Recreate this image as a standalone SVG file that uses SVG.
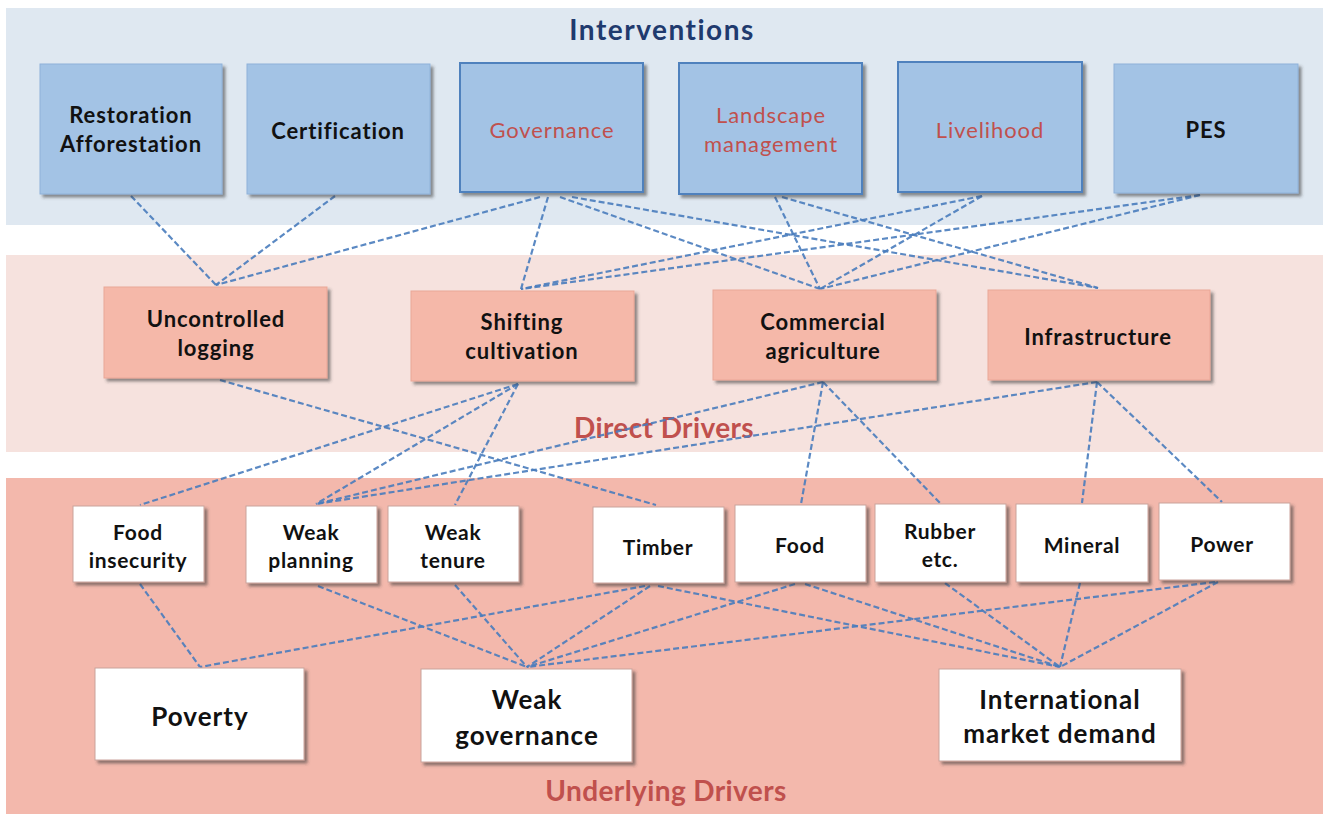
<svg xmlns="http://www.w3.org/2000/svg" width="1324" height="814" viewBox="0 0 1324 814">
<defs>
<filter id="sh" x="-10%" y="-10%" width="130%" height="140%">
<feDropShadow dx="3" dy="3" stdDeviation="1.6" flood-color="#3a3a3a" flood-opacity="0.55"/>
</filter>
<style>
text{font-family:Lato,"Open Sans","Liberation Sans",sans-serif;text-anchor:middle;font-weight:700;fill:#111}
.t1{font-size:22px;letter-spacing:0.9px}
.red{fill:#c0504d;font-weight:400}
.t2{font-size:22px;letter-spacing:0.9px}
.t3{font-size:21px;letter-spacing:0.7px}
.t4{font-size:26px;letter-spacing:1px}
.band{font-size:28px;letter-spacing:0.4px}
.blue{fill:#a3c3e5;stroke:#8fb2d9;stroke-width:1}
.blueb{fill:#a3c3e5;stroke:#4f81bd;stroke-width:2}
.pink{fill:#f5b8a9;stroke:#eaa797;stroke-width:1}
.white{fill:#ffffff;stroke:#caa39c;stroke-width:1}
.c line{stroke:#4a7dbd;stroke-width:2.2;stroke-dasharray:6 3;opacity:0.9}
</style>
</defs>

<!-- bands -->
<rect x="0" y="0" width="1324" height="814" fill="#ffffff"/>
<rect x="6" y="8" width="1317" height="217" fill="#dfe8f1"/>
<rect x="6" y="255" width="1317" height="197" fill="#f6e2de"/>
<rect x="6" y="478" width="1317" height="336" fill="#f3b8ac"/>

<text x="662" y="40" class="band" style="fill:#1f3a6e;letter-spacing:1.5px">Interventions</text>
<text x="664" y="438" class="band" style="fill:#c0504d">Direct Drivers</text>
<text x="666" y="801" class="band" style="fill:#c0504d">Underlying Drivers</text>

<!-- connectors -->
<g id="connectors" class="c">
<line x1="131" y1="196" x2="216" y2="285"/>
<line x1="335" y1="196" x2="216" y2="285"/>
<line x1="540" y1="197" x2="216" y2="285"/>
<line x1="548" y1="197" x2="521" y2="289"/>
<line x1="560" y1="197" x2="820" y2="289"/>
<line x1="572" y1="197" x2="1098" y2="288"/>
<line x1="775" y1="197" x2="820" y2="289"/>
<line x1="782" y1="197" x2="1098" y2="288"/>
<line x1="982" y1="196" x2="521" y2="289"/>
<line x1="982" y1="196" x2="820" y2="289"/>
<line x1="1200" y1="195" x2="521" y2="289"/>
<line x1="1200" y1="195" x2="820" y2="289"/>

<line x1="220" y1="380" x2="656" y2="505"/>
<line x1="518" y1="384" x2="140" y2="505"/>
<line x1="518" y1="384" x2="316" y2="504"/>
<line x1="518" y1="384" x2="455" y2="505"/>
<line x1="823" y1="382" x2="316" y2="504"/>
<line x1="823" y1="382" x2="801" y2="504"/>
<line x1="823" y1="382" x2="940" y2="503"/>
<line x1="1097" y1="382" x2="316" y2="504"/>
<line x1="1097" y1="382" x2="1082" y2="503"/>
<line x1="1097" y1="382" x2="1222" y2="502"/>

<line x1="140" y1="584" x2="200" y2="667"/>
<line x1="645" y1="586" x2="200" y2="667"/>
<line x1="318" y1="586" x2="527" y2="667"/>
<line x1="455" y1="585" x2="527" y2="667"/>
<line x1="650" y1="586" x2="527" y2="667"/>
<line x1="795" y1="584" x2="527" y2="667"/>
<line x1="1215" y1="582" x2="527" y2="667"/>
<line x1="658" y1="586" x2="1060" y2="667"/>
<line x1="805" y1="584" x2="1060" y2="667"/>
<line x1="945" y1="583" x2="1060" y2="667"/>
<line x1="1080" y1="583" x2="1060" y2="667"/>
<line x1="1218" y1="582" x2="1060" y2="667"/>
</g>

<!-- interventions -->
<g id="n-restoration"><rect x="40" y="64" width="182" height="130" class="blue" filter="url(#sh)"/><text x="131" y="123" class="t1">Restoration</text><text x="131" y="152" class="t1">Afforestation</text></g>
<g id="n-certification"><rect x="247" y="64" width="183" height="130" class="blue" filter="url(#sh)"/><text x="338" y="139" class="t1">Certification</text></g>
<g id="n-governance"><rect x="460" y="63" width="183" height="129" class="blueb" filter="url(#sh)"/><text x="552" y="138" class="t1 red">Governance</text></g>
<g id="n-landscape"><rect x="679" y="63" width="183" height="131" class="blueb" filter="url(#sh)"/><text x="771" y="123" class="t1 red">Landscape</text><text x="771" y="152" class="t1 red">management</text></g>
<g id="n-livelihood"><rect x="898" y="62" width="184" height="130" class="blueb" filter="url(#sh)"/><text x="990" y="138" class="t1 red">Livelihood</text></g>
<g id="n-pes"><rect x="1114" y="64" width="184" height="129" class="blue" filter="url(#sh)"/><text x="1206" y="138" class="t1">PES</text></g>

<!-- direct drivers -->
<g id="n-logging"><rect x="104" y="287" width="223" height="91" class="pink" filter="url(#sh)"/><text x="216" y="327" class="t2">Uncontrolled</text><text x="216" y="356" class="t2">logging</text></g>
<g id="n-shifting"><rect x="411" y="291" width="223" height="90" class="pink" filter="url(#sh)"/><text x="522" y="330" class="t2">Shifting</text><text x="522" y="359" class="t2">cultivation</text></g>
<g id="n-commercial"><rect x="713" y="290" width="223" height="90" class="pink" filter="url(#sh)"/><text x="823" y="330" class="t2">Commercial</text><text x="823" y="359" class="t2">agriculture</text></g>
<g id="n-infrastructure"><rect x="988" y="290" width="222" height="90" class="pink" filter="url(#sh)"/><text x="1098" y="345" class="t2">Infrastructure</text></g>

<!-- underlying row 1 -->
<g id="n-foodinsecurity"><rect x="73" y="506" width="131" height="76" class="white" filter="url(#sh)"/><text x="138" y="540" class="t3">Food</text><text x="138" y="568" class="t3">insecurity</text></g>
<g id="n-weakplanning"><rect x="246" y="506" width="131" height="77" class="white" filter="url(#sh)"/><text x="311" y="540" class="t3">Weak</text><text x="311" y="568" class="t3">planning</text></g>
<g id="n-weaktenure"><rect x="388" y="506" width="131" height="76" class="white" filter="url(#sh)"/><text x="453" y="540" class="t3">Weak</text><text x="453" y="568" class="t3">tenure</text></g>
<g id="n-timber"><rect x="593" y="507" width="131" height="76" class="white" filter="url(#sh)"/><text x="658" y="555" class="t3">Timber</text></g>
<g id="n-food"><rect x="735" y="505" width="131" height="77" class="white" filter="url(#sh)"/><text x="800" y="553" class="t3">Food</text></g>
<g id="n-rubber"><rect x="875" y="504" width="131" height="78" class="white" filter="url(#sh)"/><text x="940" y="539" class="t3">Rubber</text><text x="940" y="567" class="t3">etc.</text></g>
<g id="n-mineral"><rect x="1016" y="504" width="132" height="78" class="white" filter="url(#sh)"/><text x="1082" y="553" class="t3">Mineral</text></g>
<g id="n-power"><rect x="1159" y="503" width="131" height="77" class="white" filter="url(#sh)"/><text x="1222" y="552" class="t3">Power</text></g>

<!-- underlying row 2 -->
<g id="n-poverty"><rect x="95" y="668" width="209" height="92" class="white" filter="url(#sh)"/><text x="200" y="726" class="t4">Poverty</text></g>
<g id="n-weakgovernance"><rect x="421" y="669" width="211" height="93" class="white" filter="url(#sh)"/><text x="527" y="709" class="t4">Weak</text><text x="527" y="745" class="t4">governance</text></g>
<g id="n-market"><rect x="939" y="669" width="242" height="92" class="white" filter="url(#sh)"/><text x="1060" y="709" class="t4">International</text><text x="1060" y="743" class="t4">market demand</text></g>
</svg>
